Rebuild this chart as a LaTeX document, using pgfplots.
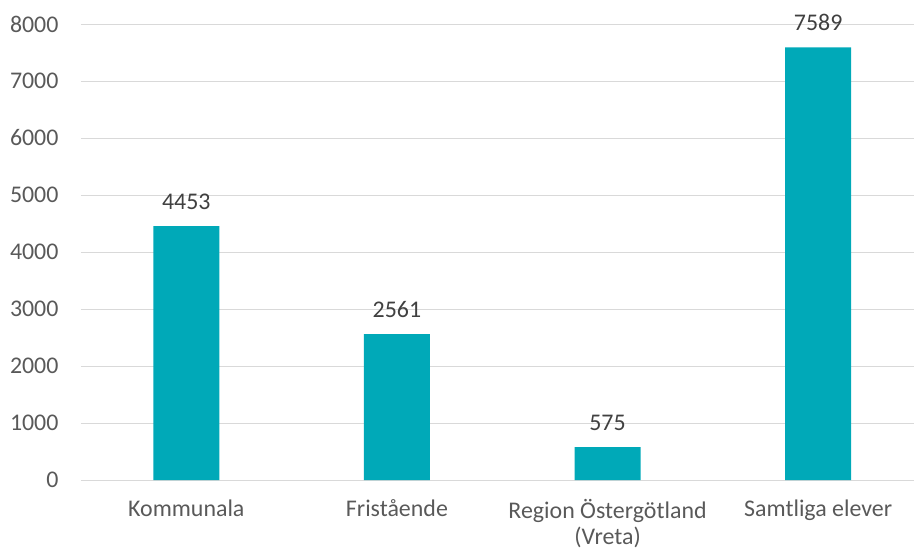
\documentclass[border=0pt]{standalone}
\usepackage{fontspec}
\setmainfont{Carlito}
\usepackage{pgfplots}
\pgfplotsset{compat=1.18}
\usetikzlibrary{calc}
\definecolor{barteal}{HTML}{00A9B8}
\definecolor{gridgray}{HTML}{D9D9D9}
\definecolor{ticktext}{HTML}{595959}
\definecolor{labeltext}{HTML}{404040}

\begin{document}
\begin{tikzpicture}
\begin{axis}[
    scale only axis,
    width=833bp,
    height=456bp,
    ybar,
    bar width=66bp,
    xmin=-0.5, xmax=3.455,
    ymin=0, ymax=8000,
    ytick={0,1000,...,8000},
    xtick=data,
    xticklabels={Kommunala, Fristående, {Region Östergötland\\(Vreta)}, Samtliga elever},
    axis line style={draw=none},
    major tick length=0pt,
    ymajorgrids,
    grid style={gridgray, line width=1bp},
    /pgf/number format/assume math mode=true,
    /pgf/number format/1000 sep={},
    ticklabel style={font=\fontsize{24}{29}\selectfont, text=ticktext},
    yticklabel style={xshift=-19bp},
    xticklabel style={align=center, yshift=-16bp, font=\fontsize{24}{26}\selectfont},
    nodes near coords,
    nodes near coords style={font=\fontsize{24}{29}\selectfont, text=labeltext, anchor=base, yshift=17bp, /pgf/number format/1000 sep={}},
]
\coordinate (bl) at (rel axis cs:0,0);
\addplot[fill=barteal, draw=none] coordinates {(0,4453) (1,2561) (2,575) (3,7589)};
\end{axis}
\pgfresetboundingbox
\path ($(bl)+(-81bp,-69bp)$) rectangle ($(bl)+(833bp,480bp)$);
\end{tikzpicture}
\end{document}
